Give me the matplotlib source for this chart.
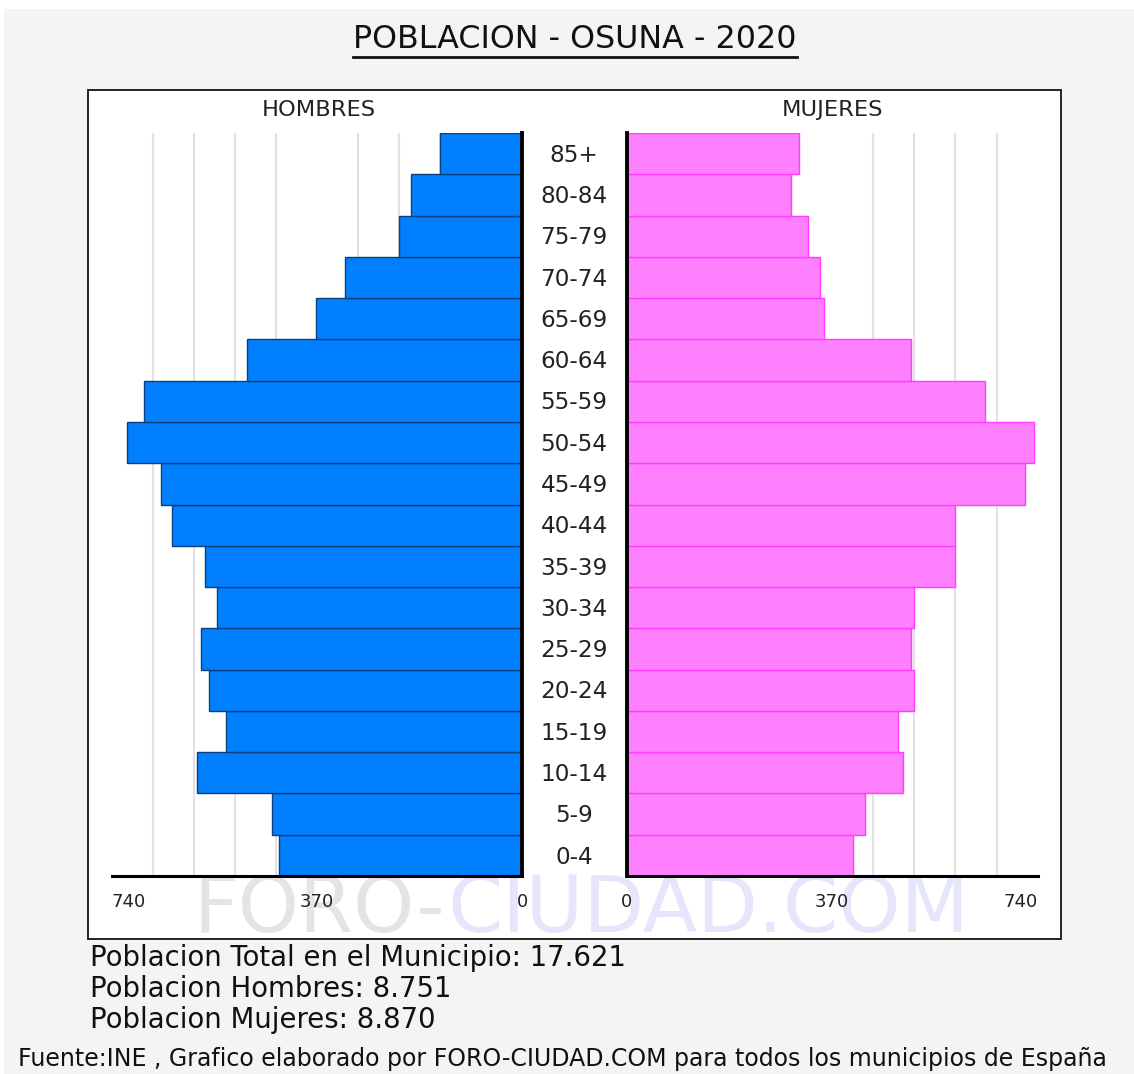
import matplotlib
matplotlib.use('Agg')
import matplotlib.pyplot as plt
from matplotlib.patches import Rectangle
from matplotlib.lines import Line2D
from matplotlib.ticker import MultipleLocator
from matplotlib.transforms import blended_transform_factory

plt.rcParams['font.family'] = ['DejaVu Sans']

# datos (de abajo hacia arriba)
edades = ['0-4', '5-9', '10-14', '15-19', '20-24', '25-29', '30-34', '35-39', '40-44',
          '45-49', '50-54', '55-59', '60-64', '65-69', '70-74', '75-79', '80-84', '85+']
hombres = [438, 452, 586, 534, 564, 579, 550, 571, 631, 652, 712, 682, 497, 371, 319, 222, 201, 148]
mujeres = [407, 429, 497, 489, 518, 512, 518, 592, 592, 718, 733, 645, 512, 355, 348, 326, 295, 310]
escala_max = 740
ticks_x = [0, 370, 740]
titulo = 'POBLACION - OSUNA - 2020'
resumen = ['Poblacion Total en el Municipio: 17.621',
           'Poblacion Hombres: 8.751',
           'Poblacion Mujeres: 8.870']
fuente = 'Fuente:INE , Grafico elaborado por FORO-CIUDAD.COM para todos los municipios de España'

W, H = 1134, 1074
fig = plt.figure(figsize=(W / 100, H / 100), dpi=100)
fig.patch.set_facecolor('#f4f4f4')


def px(x, y):
    # pixeles (desde arriba-izquierda) -> fraccion de figura
    return x / W, 1 - y / H


# bordes blancos de la captura
fig.add_artist(Rectangle((0, 1 - 9 / H), 1, 9 / H, transform=fig.transFigure,
                         facecolor='white', edgecolor='none', zorder=-3))
fig.add_artist(Rectangle((0, 0), 4 / W, 1, transform=fig.transFigure,
                         facecolor='white', edgecolor='none', zorder=-3))

# marco blanco del grafico
x0, y0 = px(87.5, 938.5)
fig.add_artist(Rectangle((x0, y0), 973 / W, 848.5 / H, transform=fig.transFigure,
                         facecolor='white', edgecolor='#111111', linewidth=1.3, zorder=-2))

# marca de agua
wx, wy = px(193, 932)
fig.text(wx, wy, 'FORO-', fontsize=56, color='#e4e4e4', va='baseline', zorder=-1)
wx2, _ = px(448, 932)
fig.text(wx2, wy, 'CIUDAD.COM', fontsize=57, color='#e5e5fb', va='baseline', zorder=-1)

bot = 1 - 876 / H
alto = 743 / H
axL = fig.add_axes([111.7 / W, bot, 410.6 / W, alto])
axR = fig.add_axes([627 / W, bot, 410.6 / W, alto])

y = list(range(len(edades)))
axL.barh(y, hombres, height=1.0, color='#0080ff', edgecolor='#0d3f78', linewidth=1.0, zorder=2)
axR.barh(y, mujeres, height=1.0, color='#ff80ff', edgecolor='#ff3cff', linewidth=1.0, zorder=2)

axL.set_xlim(escala_max, 0)
axR.set_xlim(0, escala_max)

for ax, lado in ((axL, 'right'), (axR, 'left')):
    ax.set_ylim(-0.5, len(edades) - 0.5)
    ax.set_yticks([])
    for s in ax.spines.values():
        s.set_visible(False)
    ax.spines['bottom'].set_visible(True)
    ax.spines['bottom'].set_linewidth(2.2)
    ax.spines['bottom'].set_color('black')
    ax.spines[lado].set_visible(True)
    ax.spines[lado].set_linewidth(2.8)
    ax.spines[lado].set_color('black')
    ax.spines[lado].set_zorder(3)
    ax.xaxis.set_minor_locator(MultipleLocator(74))
    ax.grid(True, which='minor', axis='x', color='#e2e2e2', linewidth=1.5, zorder=0)
    ax.set_xticks(ticks_x)
    ax.set_xticklabels([str(v) for v in ticks_x])
    ax.tick_params(axis='x', which='both', length=0, pad=12, labelsize=13, labelcolor='#222222')
    ax.set_axisbelow(True)

# alinear el 740 dentro del marco
axL.get_xticklabels()[2].set_ha('left')
axR.get_xticklabels()[2].set_ha('right')

# etiquetas de edad en el centro
tr = blended_transform_factory(fig.transFigure, axL.transData)
for i, e in enumerate(edades):
    axL.text(574 / W, i - 0.04, e, transform=tr, ha='center', va='center',
             fontsize=16.7, color='#222222', clip_on=False)

fig.text(*px(319, 110), 'HOMBRES', ha='center', va='center', fontsize=16.2, color='#222222')
fig.text(*px(833, 110), 'MUJERES', ha='center', va='center', fontsize=16.2, color='#222222')

# titulo subrayado
tt = fig.text(*px(575, 40), titulo, ha='center', va='center', fontsize=22.9, color='#111111')
fig.canvas.draw()
bb = tt.get_window_extent()
uy = bb.y0 - 1
fig.add_artist(Line2D([bb.x0 / W, bb.x1 / W], [uy / H, uy / H],
                      transform=fig.transFigure, color='#111111', linewidth=2))

# resumen y fuente
for k, linea in enumerate(resumen):
    fig.text(*px(90, 958 + 31 * k), linea, ha='left', va='center', fontsize=19.8, color='#111111')
fig.text(*px(18, 1059), fuente, ha='left', va='center', fontsize=17, color='#111111')

fig.savefig('out.png', dpi=100, facecolor=fig.get_facecolor())
